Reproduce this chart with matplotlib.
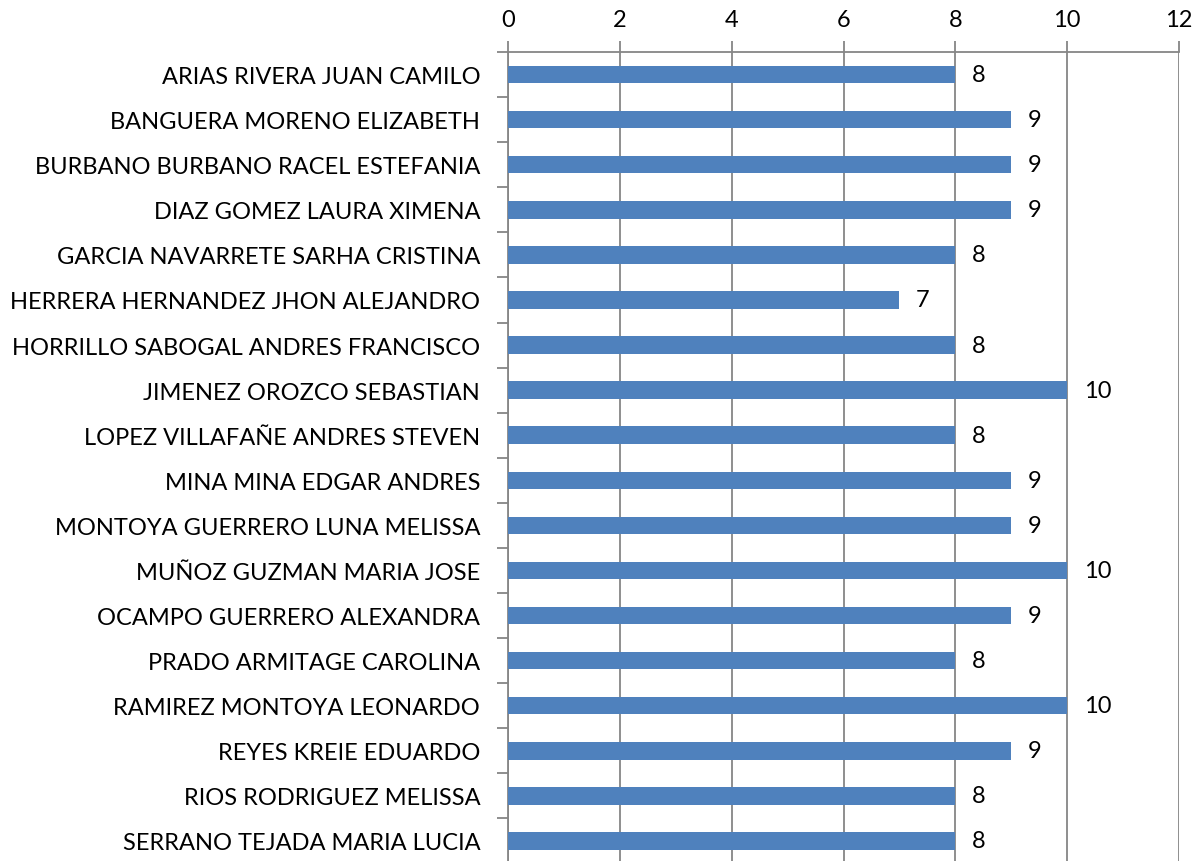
import matplotlib
matplotlib.use("Agg")
import matplotlib.pyplot as plt
import numpy as np

names = [
    "ARIAS RIVERA JUAN CAMILO",
    "BANGUERA MORENO ELIZABETH",
    "BURBANO BURBANO RACEL ESTEFANIA",
    "DIAZ GOMEZ LAURA XIMENA",
    "GARCIA NAVARRETE SARHA CRISTINA",
    "HERRERA HERNANDEZ JHON ALEJANDRO",
    "HORRILLO SABOGAL ANDRES FRANCISCO",
    "JIMENEZ OROZCO SEBASTIAN",
    "LOPEZ VILLAFAÑE ANDRES STEVEN",
    "MINA MINA EDGAR ANDRES",
    "MONTOYA GUERRERO LUNA MELISSA",
    "MUÑOZ GUZMAN MARIA JOSE",
    "OCAMPO GUERRERO ALEXANDRA",
    "PRADO ARMITAGE CAROLINA",
    "RAMIREZ MONTOYA LEONARDO",
    "REYES KREIE EDUARDO",
    "RIOS RODRIGUEZ MELISSA",
    "SERRANO TEJADA MARIA LUCIA",
]
scores = [8, 9, 9, 9, 8, 7, 8, 10, 8, 9, 9, 10, 9, 8, 10, 9, 8, 8]
xticks = [0, 2, 4, 6, 8, 10, 12]

plt.rcParams['font.family'] = ['Lato', 'DejaVu Sans']
W, H = 1197, 862
fig = plt.figure(figsize=(W / 100, H / 100), dpi=100)
left, right = 508 / W, 1179 / W
top = 1 - 53 / H
bottom = (862 - 864.5) / H
ax = fig.add_axes([left, bottom, right - left, top - bottom])

n = len(names)
y = np.arange(n)
ax.barh(y, scores, height=0.39, color='#4F81BD', zorder=3)
for yi, v in zip(y, scores):
    ax.text(v + 0.3, yi, str(v), va='center', ha='left', fontsize=17, color='black')

ax.set_xlim(0, 12)
ax.set_ylim(n - 0.5, -0.5)
ax.xaxis.tick_top()
ax.set_xticks(xticks)
ax.set_xticklabels([str(t) for t in xticks], fontsize=17)
ax.grid(axis='x', color='#868686', linewidth=1.3, zorder=0)
ax.set_yticks(y)
ax.set_yticklabels(names, fontsize=17)
ax.set_yticks(np.arange(n + 1) - 0.5, minor=True)
ax.tick_params(axis='y', which='major', length=0, pad=20)
ax.tick_params(axis='y', which='minor', length=8, color='#868686', width=1.3)
ax.tick_params(axis='x', length=8, color='#868686', width=1.3, pad=8)
for s in ['right', 'bottom']:
    ax.spines[s].set_visible(False)
for s in ['left', 'top']:
    ax.spines[s].set_color('#868686')
    ax.spines[s].set_linewidth(1.3)

fig.savefig('out.png', dpi=100)
